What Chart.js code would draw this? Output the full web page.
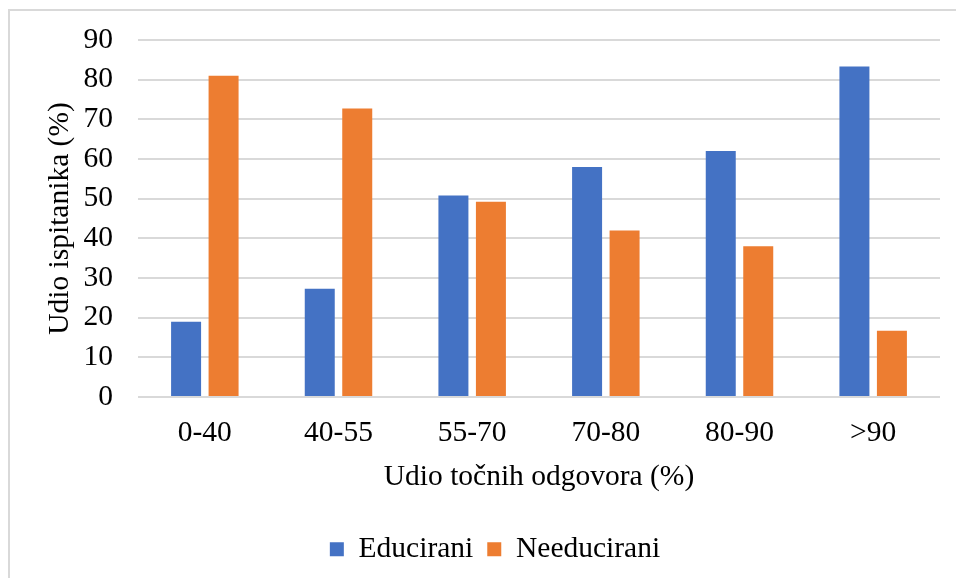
<!DOCTYPE html>
<html>
<head>
<meta charset="utf-8">
<script src="https://cdn.jsdelivr.net/npm/chart.js@4"></script>
<style>
html,body{margin:0;padding:0;background:#fff;overflow:hidden;}
#frame{position:absolute;left:8px;top:9px;width:1000px;height:620px;border-left:2px solid #d9d9d9;border-top:2px solid #d9d9d9;}
#wrap{position:absolute;left:0;top:0;width:956px;height:578px;}
</style>
</head>
<body>
<div id="frame"></div>
<div id="wrap"><canvas id="c" width="956" height="578"></canvas></div>
<script>
const categories = ['0-40', '40-55', '55-70', '70-80', '80-90', '>90'];
const educirani = [19, 27.3, 50.8, 58, 62, 83.3];
const needucirani = [81, 72.7, 49.2, 42, 38, 16.7];
const seriesNames = ['Educirani', 'Needucirani'];
const yTitle = 'Udio ispitanika (%)';
const xTitle = 'Udio točnih odgovora (%)';

const FONT = "'Liberation Serif', 'Times New Roman', serif";
const FS = 29.5;
const TXT = '#000000';

const legendShift = {
  id: 'legendShift',
  afterLayout(chart) {
    if (chart.legend) { chart.legend.left += 15; chart.legend.right += 15; }
  }
};

new Chart(document.getElementById('c'), {
  type: 'bar',
  data: {
    labels: categories,
    datasets: [
      { label: seriesNames[0], data: educirani, backgroundColor: '#4472C4', categoryPercentage: 0.561, barPercentage: 0.8 },
      { label: seriesNames[1], data: needucirani, backgroundColor: '#ED7D31', categoryPercentage: 0.561, barPercentage: 0.8 }
    ]
  },
  plugins: [legendShift],
  options: {
    responsive: false,
    animation: false,
    devicePixelRatio: 1,
    layout: { padding: { left: 20, right: 16, top: 40, bottom: 4 } },
    plugins: {
      tooltip: { enabled: false },
      legend: {
        position: 'bottom',
        labels: {
          font: { family: FONT, size: FS },
          color: TXT,
          boxWidth: 14,
          boxHeight: 14,
          padding: 14
        }
      }
    },
    scales: {
      x: {
        grid: { display: false },
        border: { display: false },
        ticks: { font: { family: FONT, size: FS }, color: TXT, padding: 11, maxRotation: 0 },
        title: { display: true, text: xTitle, font: { family: FONT, size: FS }, color: TXT, padding: { top: 0, bottom: 26 } },
        afterFit: (s) => { s.height = 123.5; }
      },
      y: {
        min: 0,
        max: 90,
        ticks: { stepSize: 10, font: { family: FONT, size: FS }, color: TXT, padding: 25 },
        grid: { color: '#d9d9d9', lineWidth: 2, drawTicks: false },
        border: { display: false },
        title: { display: true, text: yTitle, font: { family: FONT, size: FS }, color: TXT, padding: { top: 23, bottom: 0 } },
        afterFit: (s) => { s.width = 118; s.paddingTop = 0; s.paddingBottom = 0; }
      }
    }
  }
});
</script>
</body>
</html>
